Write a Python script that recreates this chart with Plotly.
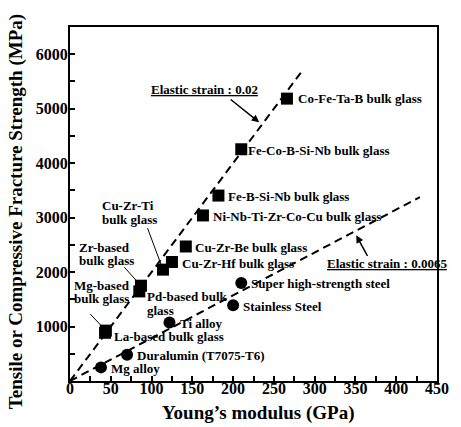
import plotly.graph_objects as go

# ---------------- data ----------------
bmg_names = ["Co-Fe-Ta-B bulk glass", "Fe-Co-B-Si-Nb bulk glass", "Fe-B-Si-Nb bulk glass",
             "Ni-Nb-Ti-Zr-Co-Cu bulk glass", "Cu-Zr-Be bulk glass", "Cu-Zr-Hf bulk glass",
             "Cu-Zr-Ti bulk glass", "Zr-based bulk glass", "Pd-based bulk glass",
             "Mg-based bulk glass", "La-based bulk glass"]
bmg_modulus = [266, 210, 182, 163, 142, 125, 114, 87, 85, 44, 43]
bmg_strength = [5185, 4255, 3405, 3040, 2470, 2185, 2045, 1750, 1645, 925, 885]

cry_names = ["Super high-strength steel", "Stainless Steel", "Ti alloy",
             "Duralumin (T7075-T6)", "Mg alloy"]
cry_modulus = [210, 200, 122, 70, 38]
cry_strength = [1800, 1390, 1075, 480, 250]

strain_hi_x = [0, 286]
strain_hi_y = [0, 5720]
strain_lo_x = [0, 429]
strain_lo_y = [0, 3375]

x_ticks = [0, 50, 100, 150, 200, 250, 300, 350, 400, 450]
y_ticks = [0, 1000, 2000, 3000, 4000, 5000, 6000]
y_ticktext = ["", "1000", "2000", "3000", "4000", "5000", "6000"]

# ---------------- styling ----------------
FONT = "Liberation Serif"
LBL = dict(family=FONT, size=13, color="black", weight="bold")

fig = go.Figure()
fig.add_trace(go.Scatter(x=strain_hi_x, y=strain_hi_y, mode="lines",
                         line=dict(color="black", width=2, dash="8px,5px"), hoverinfo="skip"))
fig.add_trace(go.Scatter(x=strain_lo_x, y=strain_lo_y, mode="lines",
                         line=dict(color="black", width=2, dash="8px,5px"), hoverinfo="skip"))
fig.add_trace(go.Scatter(x=bmg_modulus, y=bmg_strength, mode="markers", text=bmg_names,
                         marker=dict(symbol="square", size=12, color="black")))
fig.add_trace(go.Scatter(x=cry_modulus, y=cry_strength, mode="markers", text=cry_names,
                         marker=dict(symbol="circle", size=12, color="black")))

annotations = []

def lab(x, y, text, dx, dy, anchor="left"):
    annotations.append(dict(x=x, y=y, xref="x", yref="y", text=text, showarrow=False,
                            xanchor=anchor, yanchor="middle", xshift=dx, yshift=dy,
                            font=LBL, borderpad=0))

# single-line labels placed right of markers (dx, dy in px)
single_offsets = {
    "Co-Fe-Ta-B bulk glass": (10, 0),
    "Fe-Co-B-Si-Nb bulk glass": (6, -1),
    "Fe-B-Si-Nb bulk glass": (9, -1),
    "Ni-Nb-Ti-Zr-Co-Cu bulk glass": (9, -1),
    "Cu-Zr-Be bulk glass": (8, -1),
    "Cu-Zr-Hf bulk glass": (9, -1),
    "La-based bulk glass": (8, -4),
    "Super high-strength steel": (9, -1),
    "Stainless Steel": (9, -1),
    "Ti alloy": (9, -1),
    "Duralumin (T7075-T6)": (9, -1),
    "Mg alloy": (9, -1),
}
all_names = bmg_names + cry_names
all_x = bmg_modulus + cry_modulus
all_y = bmg_strength + cry_strength
pos = {n: (xx, yy) for n, xx, yy in zip(all_names, all_x, all_y)}
for name, (dx, dy) in single_offsets.items():
    xx, yy = pos[name]
    lab(xx, yy, name, dx, dy)

# two-line labels: (line text, dx, dy, anchor)
multi = {
    "Cu-Zr-Ti bulk glass": [("Cu-Zr-Ti", -35, 64, "center"), ("bulk glass", -33, 50, "center")],
    "Zr-based bulk glass": [("Zr-based", -36, 38, "center"), ("bulk glass", -34, 25, "center")],
    "Mg-based bulk glass": [("Mg-based", -4, 45, "center"), ("bulk glass", -4, 32, "center")],
    "Pd-based bulk glass": [("Pd-based bulk", 7, -5, "left"), ("glass", 7, -19, "left")],
}
for name, lines in multi.items():
    xx, yy = pos[name]
    for t, dx, dy, anc in lines:
        lab(xx, yy, t, dx, dy, anc)

# leader lines (tail offsets in px from marker)
leaders = {
    "Cu-Zr-Ti bulk glass": (-16, -43, 4),
    "Zr-based bulk glass": (-18, -20, 2),
    "Mg-based bulk glass": (-17, -18, 1),
}
for name, (ax, ay, so) in leaders.items():
    xx, yy = pos[name]
    annotations.append(dict(x=xx, y=yy, xref="x", yref="y", text="", showarrow=True,
                            ax=ax, ay=ay, arrowhead=0, arrowwidth=1, arrowcolor="black",
                            standoff=so))

# elastic strain labels + arrows
annotations.append(dict(x=232, y=4750, xref="x", yref="y", text="", showarrow=True,
                        ax=-30, ay=-24, arrowhead=2, arrowsize=1, arrowwidth=1.5,
                        arrowcolor="black"))
annotations.append(dict(x=232, y=4750, xref="x", yref="y",
                        text="<u>Elastic strain : 0.02</u>", showarrow=False,
                        xshift=-55, yshift=33, xanchor="center", yanchor="middle",
                        font=LBL))
annotations.append(dict(x=351, y=2675, xref="x", yref="y", text="", showarrow=True,
                        ax=12, ay=22, arrowhead=2, arrowsize=1, arrowwidth=1.5,
                        arrowcolor="black"))
annotations.append(dict(x=351, y=2675, xref="x", yref="y",
                        text="<u>Elastic strain : 0.0065</u>", showarrow=False,
                        xshift=31, yshift=-28, xanchor="center", yanchor="middle",
                        font=LBL))

# axis titles
TITLE = dict(family=FONT, size=19, color="black", weight="bold")
annotations.append(dict(x=0, y=0.477, xref="paper", yref="paper", xshift=-54,
                        text="Tensile or Compressive Fracture Strength (MPa)", textangle=-90,
                        showarrow=False, xanchor="center", yanchor="middle", font=TITLE))
annotations.append(dict(x=0.513, y=0, xref="paper", yref="paper", yshift=-32,
                        text="Young\u2019s modulus (GPa)", showarrow=False,
                        xanchor="center", yanchor="middle", font=TITLE))

TICK = dict(family=FONT, size=16, color="black", weight="bold")
fig.update_layout(
    width=461, height=427,
    margin=dict(l=70, r=13, t=27, b=46),
    paper_bgcolor="white", plot_bgcolor="white",
    showlegend=False,
    annotations=annotations,
    xaxis=dict(range=[0, 450], tickmode="array", tickvals=x_ticks, ticks="inside", ticklen=5,
               tickwidth=1.5, tickcolor="black", showline=True, linecolor="black", linewidth=2,
               mirror=True, showgrid=False, zeroline=False, tickfont=TICK, ticklabelstandoff=-8,
               minor=dict(tickmode="linear", tick0=0, dtick=25, ticks="inside", ticklen=5,
                          tickwidth=1.5, tickcolor="black", showgrid=False)),
    yaxis=dict(range=[0, 6500], tickmode="array", tickvals=y_ticks, ticktext=y_ticktext,
               ticks="inside", ticklen=5, tickwidth=1.5, tickcolor="black", showline=True,
               linecolor="black", linewidth=2, mirror=True, showgrid=False, zeroline=False,
               tickfont=TICK, ticklabelstandoff=-3,
               minor=dict(tickmode="linear", tick0=0, dtick=500, ticks="inside", ticklen=5,
                          tickwidth=1.5, tickcolor="black", showgrid=False)),
)

fig.write_html("out.html", config={"displayModeBar": False},
               post_script="document.body.style.margin='0';document.body.style.overflow='hidden';")
